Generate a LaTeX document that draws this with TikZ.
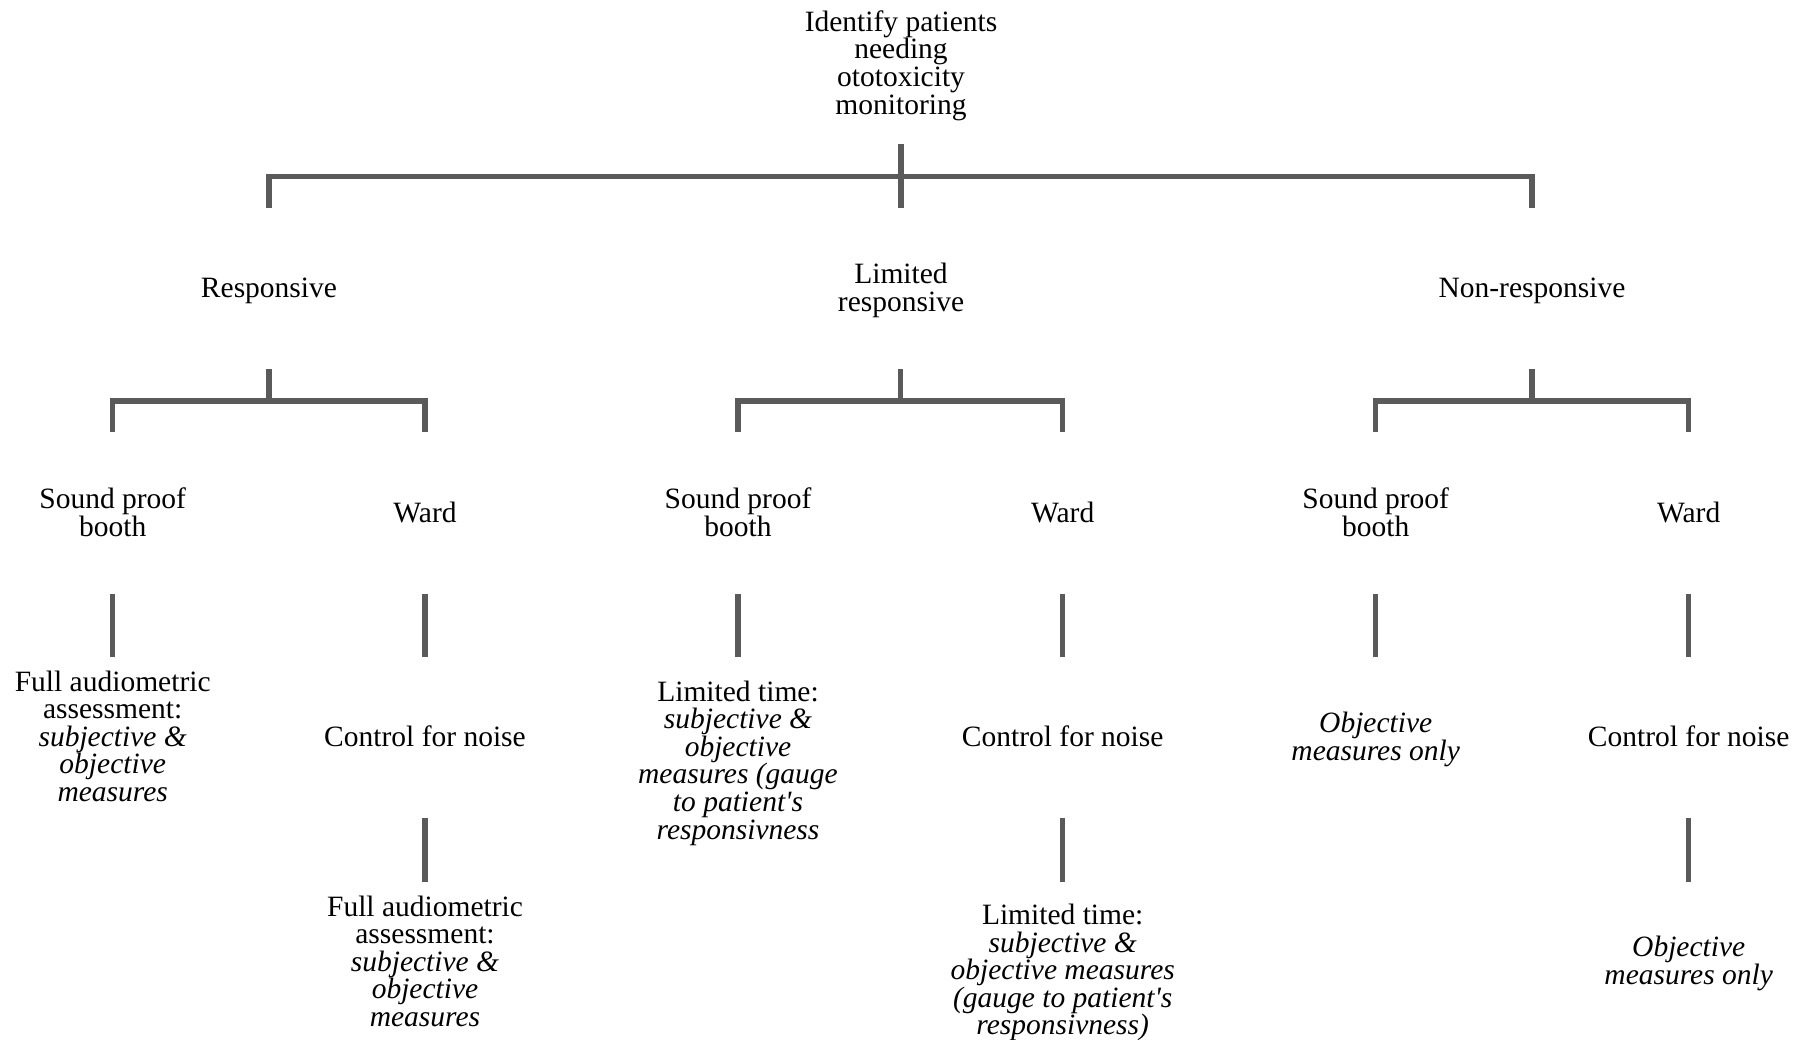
\documentclass[tikz,border=0pt]{standalone}
\usepackage{fontspec}
\setmainfont{Liberation Serif}
\definecolor{linegray}{HTML}{5A5A5A}
\begin{document}
\begin{tikzpicture}[x=1pt,y=-1pt,
  lbl/.style={align=center,inner sep=0pt,font=\fontsize{29.5}{27.6}\selectfont},
  conn/.style={draw=linegray,line width=5.3pt,line join=miter}]
\useasboundingbox (0,0) rectangle (1811,1040);
% text nodes
\node[lbl] (top) at (901,65.5) {Identify patients\\needing\\ototoxicity\\monitoring};
\node[lbl] (resp) at (269,290.5) {Responsive};
\node[lbl] (lim) at (901,290.5) {Limited\\responsive};
\node[lbl] (non) at (1532,290.5) {Non-responsive};
\node[lbl] (b1) at (112.7,512.2) {Sound proof\\booth};
\node[lbl] (w1) at (425,512.2) {Ward};
\node[lbl] (b2) at (738,512.2) {Sound proof\\booth};
\node[lbl] (w2) at (1062.7,512.2) {Ward};
\node[lbl] (b3) at (1375.7,512.2) {Sound proof\\booth};
\node[lbl] (w3) at (1688.7,512.2) {Ward};
\node[lbl] (f1) at (112.7,736.2) {Full audiometric\\assessment:\\{\itshape subjective \&}\\{\itshape objective}\\{\itshape measures}};
\node[lbl] (c1) at (425,736.2) {Control for noise};
\node[lbl] (l2) at (738,763) {Limited time:\\{\itshape subjective \&}\\{\itshape objective}\\{\itshape measures (gauge}\\{\itshape to patient\textquotesingle s}\\{\itshape responsivness}};
\node[lbl] (c2) at (1062.7,736.2) {Control for noise};
\node[lbl] (o3) at (1375.7,739.5) {{\itshape Objective}\\{\itshape measures only}};
\node[lbl] (c3) at (1688.7,736.2) {Control for noise};
\node[lbl] (f4) at (425,961.2) {Full audiometric\\assessment:\\{\itshape subjective \&}\\{\itshape objective}\\{\itshape measures}};
\node[lbl] (l4) at (1062.7,972.5) {Limited time:\\{\itshape subjective \&}\\{\itshape objective measures}\\{\itshape (gauge to patient\textquotesingle s}\\{\itshape responsivness)}};
\node[lbl] (o4) at (1688.7,963.5) {{\itshape Objective}\\{\itshape measures only}};
% connector coordinates
\coordinate (t0) at (901,144);
\coordinate (t1) at (901,208);
\coordinate (tL) at (269,208);
\coordinate (tR) at (1532,208);
\coordinate (tbar) at (901,176.3);
\foreach \n/\x in {r/269, m/900.5, n/1532}{
  \coordinate (\n s) at (\x,369);
  \coordinate (\n b) at (\x,401);
}
\foreach \n/\x in {1/112.7, 2/425, 3/738, 4/1062.7, 5/1375.7, 6/1688.7}{
  \coordinate (d\n) at (\x,432);
  \coordinate (u\n) at (\x,594);
  \coordinate (v\n) at (\x,657);
}
\foreach \n/\x in {2/425, 4/1062.7, 6/1688.7}{
  \coordinate (p\n) at (\x,818);
  \coordinate (q\n) at (\x,882);
}
% level 1
\draw[conn] (tL) |- (tbar) -| (tR);
\draw[conn] (t0) -- (t1);
% level 2
\draw[conn] (d1) |- (rb) -| (d2);
\draw[conn] (rs) -- (rb);
\draw[conn] (d3) |- (mb) -| (d4);
\draw[conn] (ms) -- (mb);
\draw[conn] (d5) |- (nb) -| (d6);
\draw[conn] (ns) -- (nb);
% level 3
\foreach \n in {1,...,6}{\draw[conn] (u\n) -- (v\n);}
% level 4
\foreach \n in {2,4,6}{\draw[conn] (p\n) -- (q\n);}
\end{tikzpicture}
\end{document}
